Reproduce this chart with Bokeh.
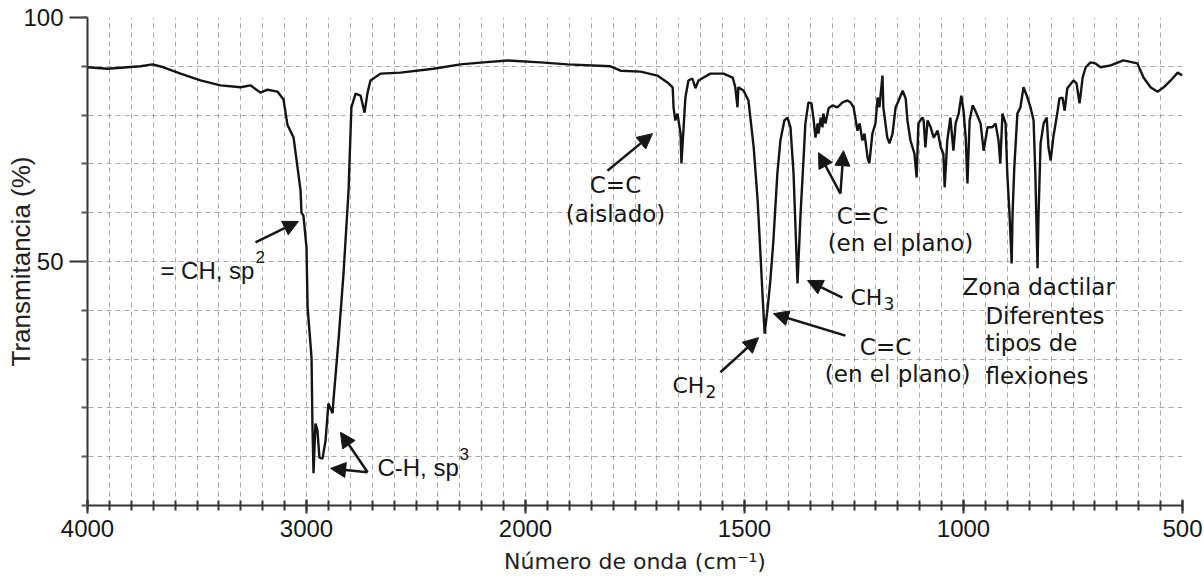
import math
from bokeh.plotting import figure
from bokeh.models import (ColumnDataSource, Range1d, FixedTicker, CustomJSTransform,
                          Arrow, NormalHead, Label)
from bokeh.transform import transform
from bokeh.embed import file_html
from bokeh.resources import INLINE

# ---- data: IR spectrum (wavenumber cm-1, transmittance %) ----
wavenumber = [
    4000, 3909, 3758, 3703, 3653, 3575, 3484, 3393, 3301, 3256,
    3210, 3178, 3132, 3105, 3087, 3059, 3041, 3027, 3023, 3014,
    3000, 2995, 2977, 2973, 2968, 2959, 2950, 2941, 2927, 2913,
    2900, 2881, 2877, 2854, 2831, 2808, 2795, 2776, 2753, 2735,
    2722, 2708, 2662, 2571, 2420, 2297, 2192, 2082,
    1966, 1904, 1806, 1783, 1737, 1699, 1676, 1664, 1662, 1658,
    1653, 1646, 1644, 1639, 1635, 1628, 1619, 1612, 1605, 1578,
    1548, 1527, 1521, 1516, 1514, 1502, 1491, 1479, 1470, 1464,
    1459, 1454, 1447, 1441, 1434, 1425, 1418, 1409, 1402, 1395,
    1388, 1379, 1372, 1365, 1361, 1354, 1347, 1342, 1338, 1333,
    1331, 1326, 1322, 1320, 1315, 1308, 1299, 1288, 1276, 1265,
    1258, 1251, 1242, 1237, 1231, 1226, 1219, 1215, 1208, 1201,
    1196, 1192, 1185, 1183, 1174, 1169, 1162, 1155, 1148, 1139,
    1132, 1128, 1121, 1114, 1112, 1107, 1103, 1094, 1091, 1087,
    1082, 1075, 1068, 1059, 1052, 1046, 1043, 1037, 1030, 1023,
    1018, 1011, 1005, 1000, 995, 991, 986, 979, 973, 961,
    954, 945, 934, 927, 920, 916, 911, 904, 900, 895,
    890, 888, 884, 877, 870, 863, 854, 847, 840, 836,
    831, 829, 824, 817, 810, 806, 801, 795, 785, 781,
    774, 769, 763, 749, 742, 737, 735, 728, 721, 710,
    699, 687, 664, 635, 603, 589, 573, 557, 543, 527,
    511, 500,
]
transmittance = [
    89.8, 89.5, 90.0, 90.4, 89.8, 88.5, 87.1, 86.1, 85.7, 86.1,
    84.6, 85.2, 84.8, 83.2, 78.0, 75.4, 69.3, 64.5, 60.0, 59.4,
    52.9, 40.6, 30.3, 16.8, 6.6, 16.8, 15.4, 9.8, 9.6, 13.3,
    20.9, 18.9, 21.5, 33.8, 47.5, 64.5, 81.6, 84.4, 84.0, 80.5,
    84.4, 87.1, 88.5, 88.7, 89.5, 90.4, 90.8, 91.2,
    90.8, 90.4, 90.0, 89.1, 88.9, 88.1, 86.7, 85.7, 81.6, 78.9,
    80.3, 76.2, 70.1, 77.5, 83.6, 87.1, 87.5, 85.5, 87.1, 88.5,
    88.5, 87.7, 85.7, 81.6, 85.7, 85.0, 83.0, 73.4, 62.5, 52.3,
    43.4, 35.2, 40.6, 46.1, 54.3, 68.0, 74.8, 78.9, 79.5, 77.5,
    68.0, 45.5, 59.8, 71.3, 78.3, 82.6, 82.4, 78.9, 75.4, 78.3,
    76.2, 79.5, 77.5, 80.3, 78.3, 81.4, 82.0, 81.6, 82.6, 83.0,
    82.6, 81.6, 76.8, 78.3, 74.8, 76.2, 71.3, 70.1, 76.2, 78.3,
    83.6, 81.6, 88.1, 81.6, 75.4, 74.2, 76.2, 81.6, 83.0, 85.0,
    83.4, 78.9, 74.8, 72.7, 72.1, 67.2, 78.3, 79.5, 78.9, 73.4,
    78.9, 77.5, 75.4, 76.8, 73.4, 72.1, 65.2, 74.8, 79.5, 72.7,
    78.3, 80.3, 84.0, 80.9, 75.4, 66.0, 78.9, 82.0, 80.9, 78.3,
    72.7, 77.5, 77.5, 78.3, 74.8, 70.1, 80.3, 78.3, 68.0, 59.8,
    49.6, 59.8, 69.3, 80.3, 81.6, 85.7, 83.6, 81.6, 78.9, 68.0,
    48.6, 58.6, 74.2, 78.3, 79.5, 73.4, 70.7, 75.4, 80.9, 83.4,
    83.6, 80.9, 85.5, 87.1, 86.5, 83.6, 82.4, 87.7, 89.8, 90.8,
    90.6, 89.8, 90.2, 91.2, 90.6, 87.7, 85.7, 84.8, 85.7, 87.1,
    88.7, 88.1,
]

x_tick_labels = ["4000", "3000", "2000", "1500", "1000", "500"]
y_tick_labels = ["50", "100"]
x_title = "Número de onda (cm⁻¹)"
y_title = "Transmitancia (%)"

# axis scale doubles below 2000 cm-1 (drawn position = 2*wn - 2000 there)
def axpos(wn):
    return wn if wn >= 2000 else 2 * wn - 2000

wn_scale = CustomJSTransform(
    func="return x >= 2000 ? x : 2*x - 2000;",
    v_func="const out = new Array(xs.length); for (let i = 0; i < xs.length; i++) { const x = xs[i]; out[i] = x >= 2000 ? x : 2*x - 2000; } return out;",
)

src = ColumnDataSource(dict(wn=wavenumber, T=transmittance))

p = figure(width=1204, height=579, output_backend="svg", toolbar_location=None,
           x_range=Range1d(4000, -1000), y_range=Range1d(0, 100),
           min_border_left=87, min_border_right=22, min_border_top=17, min_border_bottom=74)
p.outline_line_color = None
p.background_fill_color = "white"
p.border_fill_color = "white"

p.line(x=transform("wn", wn_scale), y="T", source=src, line_color="#141414", line_width=2.4)

INK = "#161616"

# x axis
xt = [axpos(int(s)) for s in x_tick_labels]
p.xaxis.ticker = FixedTicker(ticks=xt, minor_ticks=list(range(-1000, 4001, 100)))
p.xaxis.major_label_overrides = {t: s for t, s in zip(xt, x_tick_labels)}
p.xaxis.major_label_text_font = "Liberation Sans"
p.xaxis.major_label_text_font_size = "24px"
p.xaxis.major_label_text_color = INK
p.xaxis.major_label_standoff = 6
p.xaxis.axis_label = x_title
p.xaxis.axis_label_text_font = "DejaVu Sans"
p.xaxis.axis_label_text_font_size = "22px"
p.xaxis.axis_label_text_font_style = "normal"
p.xaxis.axis_label_text_color = "#222222"
p.xaxis.axis_label_standoff = 9
p.xaxis.axis_line_width = 2
p.xaxis.axis_line_color = "#333333"
p.xaxis.major_tick_in = 6
p.xaxis.major_tick_out = 8
p.xaxis.minor_tick_in = 5
p.xaxis.minor_tick_out = 5
p.xaxis.major_tick_line_width = 2
p.xaxis.minor_tick_line_width = 2
p.xaxis.major_tick_line_color = "#333333"
p.xaxis.minor_tick_line_color = "#333333"

# y axis
p.yaxis.ticker = FixedTicker(ticks=[int(s) for s in y_tick_labels], minor_ticks=list(range(0, 101, 10)))
p.yaxis.major_label_text_font = "Liberation Sans"
p.yaxis.major_label_text_font_size = "24px"
p.yaxis.major_label_text_color = INK
p.yaxis.major_label_standoff = 6
p.yaxis.axis_label = y_title
p.yaxis.axis_label_text_font = "Liberation Sans"
p.yaxis.axis_label_text_font_size = "26px"
p.yaxis.axis_label_text_font_style = "normal"
p.yaxis.axis_label_text_color = "#222222"
p.yaxis.axis_label_standoff = -16
p.yaxis.axis_line_width = 2
p.yaxis.axis_line_color = "#333333"
p.yaxis.major_tick_in = 0
p.yaxis.major_tick_out = 18
p.yaxis.minor_tick_in = 0
p.yaxis.minor_tick_out = 6
p.yaxis.major_tick_line_width = 2
p.yaxis.minor_tick_line_width = 2
p.yaxis.major_tick_line_color = "#333333"
p.yaxis.minor_tick_line_color = "#555555"

# grids
p.xgrid.ticker = FixedTicker(ticks=list(range(-1000, 4001, 100)))
p.ygrid.ticker = FixedTicker(ticks=list(range(0, 101, 10)))
for g in (p.xgrid, p.ygrid):
    g.grid_line_color = "#8c8c8c"
    g.grid_line_dash = "5 4"
    g.grid_line_width = 1
    g.grid_line_alpha = 0.75

# annotation arrows (x in drawn axis units, y in %)
arrows = [
    (3233, 53.9, 3037, 58.2),
    (2721, 6.8, 2890, 7.6),
    (2721, 6.8, 2845, 15.0),
    (1626, 68.6, 1420, 76.2),
    (562, 63.9, 662, 72.3),
    (562, 63.9, 548, 72.7),
    (553, 42.6, 712, 46.1),
    (539, 34.8, 868, 39.3),
    (1110, 27.3, 936, 34.4),
]
for xs, ys, xe, ye in arrows:
    p.add_layout(Arrow(x_start=xs, y_start=ys, x_end=xe, y_end=ye,
                       line_color=INK, line_width=2.5,
                       end=NormalHead(size=15, fill_color=INK, line_color=INK)))

# (x, y, text, align, font, size, x_offset, y_offset)
labels = [
    (3667, 48.2, "= CH, sp", "left", "Liberation Sans", "24px", 0, 0),
    (3667, 48.2, "2", "left", "Liberation Sans", "17px", 95, 13),
    (2676, 7.8, "C-H, sp", "left", "Liberation Sans", "24px", 0, 0),
    (2676, 7.8, "3", "left", "Liberation Sans", "17px", 82, 13),
    (1589, 65.6, "C=C", "center", "DejaVu Sans", "23px", 0, 0),
    (1589, 59.8, "(aislado)", "center", "DejaVu Sans", "23px", 0, 0),
    (461, 59.4, "C=C", "center", "DejaVu Sans", "23px", 0, 0),
    (288, 53.7, "(en el plano)", "center", "DejaVu Sans", "23px", 0, 0),
    (516, 42.6, "CH", "left", "DejaVu Sans", "22px", 0, 0),
    (516, 42.6, "3", "left", "DejaVu Sans", "17px", 33, -6),
    (356, 32.4, "C=C", "center", "DejaVu Sans", "23px", 0, 0),
    (301, 27.0, "(en el plano)", "center", "DejaVu Sans", "23px", 0, 0),
    (1329, 24.6, "CH", "left", "DejaVu Sans", "22px", 0, 0),
    (1329, 24.6, "2", "left", "DejaVu Sans", "17px", 33, -6),
    (5, 44.7, "Zona dactilar", "left", "DejaVu Sans", "23px", 0, 0),
    (-100, 38.9, "Diferentes", "left", "DejaVu Sans", "23px", 0, 0),
    (-100, 33.2, "tipos de", "left", "DejaVu Sans", "23px", 0, 0),
    (-100, 26.6, "flexiones", "left", "DejaVu Sans", "23px", 0, 0),
]
for x, y, t, al, f, fs, xo, yo in labels:
    p.add_layout(Label(x=x, y=y, text=t, text_align=al, text_baseline="middle",
                       x_offset=xo, y_offset=yo,
                       text_font=f, text_font_size=fs, text_color=INK))

open("out.html", "w").write(file_html(p, INLINE))
